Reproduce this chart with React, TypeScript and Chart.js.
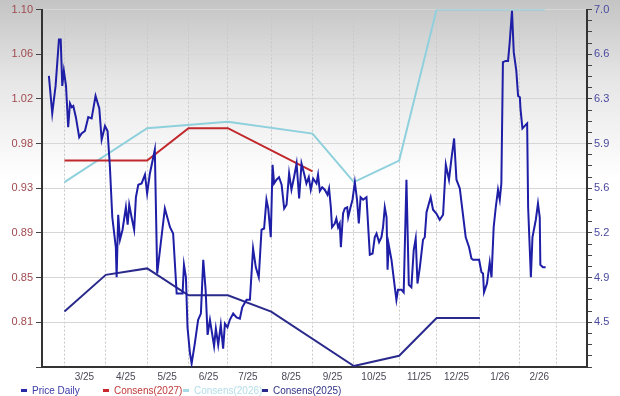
import React, { useEffect, useRef } from 'react';
import { Chart, registerables } from 'chart.js';

Chart.register(...registerables);

// ---- Data ----
// x unit: trading days counted from 1 Mar 2025
const monthLabels = ['3/25', '4/25', '5/25', '6/25', '7/25', '8/25', '9/25', '10/25', '11/25', '12/25', '1/26', '2/26'];
const monthStartDay = [0, 21, 42, 63, 83, 105, 126, 147, 170, 189, 211, 231, 250];
const xMin = -11.4;
const xMax = 265.4;

const priceDay = [
  -7.9, -6.2, -4.5, -2.8, -1.9, -1.1, -0.3, 0.8, 1.9, 2.8, 3.7, 4.5, 5.8, 7.5, 8.7, 10.4, 12.1, 13.8, 15.8, 17.7,
  18.9, 20.6, 21.9, 23.1, 24.3, 26.1, 26.5, 27.3, 28.2, 29.5, 31.2, 32.1, 32.9, 34.1, 35.4, 36.3, 37.5, 39.2, 40.9, 42.0,
  43.4, 45.9, 47.1, 51.0, 53.6, 55.2, 57.0, 58.6, 60.0, 60.7, 61.7, 62.5, 63.7, 64.6, 66.2, 67.9, 69.3, 70.5, 71.7, 72.7,
  73.9, 75.0, 76.0, 76.9, 78.1, 79.4, 80.6, 81.5, 82.8, 84.0, 85.7, 87.4, 89.1, 90.3, 92.5, 94.2, 95.8, 97.2, 98.7, 100.1,
  101.4, 102.6, 103.5, 104.8, 105.7, 106.5, 107.7, 109.0, 110.3, 111.6, 112.8, 114.1, 115.3, 116.6, 117.9, 119.2, 120.4, 121.7, 122.9, 124.1,
  125.1, 126.3, 128.0, 128.8, 129.7, 130.9, 132.2, 133.6, 134.4, 135.3, 135.9, 137.3, 138.1, 139.0, 139.8, 140.4, 141.5, 142.4, 143.6, 144.1,
  145.3, 146.3, 147.5, 148.6, 149.5, 150.4, 151.7, 153.4, 155.1, 156.5, 157.6, 158.5, 159.8, 161.0, 161.8, 162.7, 163.6, 164.1, 164.7, 166.1,
  167.8, 168.6, 169.4, 171.2, 172.3, 173.7, 174.9, 176.2, 177.4, 178.4, 179.3, 180.5, 182.1, 183.0, 183.9, 186.0, 187.2, 188.9, 190.6, 192.3,
  193.7, 195.3, 196.5, 197.9, 199.1, 200.8, 202.1, 203.8, 205.5, 206.7, 207.5, 209.2, 210.6, 211.8, 212.6, 213.1, 214.6, 216.0, 216.9, 218.0,
  219.0, 220.2, 221.1, 221.9, 222.7, 224.1, 225.3, 226.1, 227.3, 228.2, 229.5, 230.4, 231.3, 231.6, 232.6, 233.8, 235.0, 235.5, 236.9, 237.7,
  239.4, 240.5, 241.4, 241.7, 243.0, 244.4,
];
const priceValue = [
  6.47, 6.17, 6.39, 6.76, 6.76, 6.39, 6.51, 6.39, 6.06, 6.25, 6.22, 6.23, 6.14, 5.98, 6.01, 6.03, 6.14, 6.13, 6.31, 6.21,
  5.96, 6.07, 6.03, 5.74, 5.34, 5.10, 4.86, 5.36, 5.16, 5.24, 5.42, 5.28, 5.44, 5.34, 5.24, 5.50, 5.60, 5.61, 5.68, 5.53,
  5.69, 5.88, 4.89, 5.41, 5.26, 5.21, 4.73, 4.73, 4.73, 4.96, 4.86, 4.46, 4.26, 4.17, 4.33, 4.52, 4.57, 5.00, 4.76, 4.40,
  4.52, 4.41, 4.31, 4.45, 4.32, 4.48, 4.29, 4.49, 4.46, 4.52, 4.57, 4.54, 4.53, 4.62, 4.68, 4.68, 5.09, 4.94, 4.86, 5.24,
  5.25, 5.48, 5.41, 5.18, 5.76, 5.61, 5.64, 5.66, 5.60, 5.41, 5.44, 5.69, 5.56, 5.66, 5.77, 5.49, 5.77, 5.69, 5.61, 5.66,
  5.56, 5.65, 5.61, 5.68, 5.55, 5.58, 5.56, 5.52, 5.57, 5.42, 5.26, 5.29, 5.33, 5.26, 5.29, 5.10, 5.37, 5.41, 5.42, 5.34,
  5.42, 5.48, 5.62, 5.48, 5.29, 5.50, 5.48, 5.50, 5.04, 5.05, 5.18, 5.21, 5.14, 5.18, 5.26, 5.42, 5.34, 4.92, 5.12, 5.00,
  4.78, 4.68, 4.76, 4.76, 4.74, 5.64, 4.80, 4.78, 5.08, 5.17, 4.81, 4.94, 5.16, 5.18, 5.38, 5.50, 5.40, 5.37, 5.32, 5.36,
  5.76, 5.64, 5.80, 5.97, 5.64, 5.57, 5.40, 5.18, 5.10, 5.01, 5.00, 5.00, 5.00, 4.90, 4.89, 4.74, 4.81, 4.98, 4.86, 5.26,
  5.41, 5.56, 5.48, 5.61, 6.58, 6.59, 6.59, 6.73, 6.99, 6.66, 6.51, 6.31, 6.30, 6.21, 6.05, 6.07, 6.09, 5.42, 4.86, 5.18,
  5.32, 5.45, 5.34, 4.96, 4.94, 4.94,
];

const consens2027Day = [0, 42, 63, 83, 126];
const consens2027 = [0.96, 0.96, 0.99, 0.99, 0.95];

const consens2026Day = [0, 42, 83, 126, 147, 170, 189, 244];
const consens2026 = [0.94, 0.99, 0.996, 0.985, 0.94, 0.96, 1.1, 1.1];

const consens2025Day = [0, 21, 42, 63, 83, 105, 147, 170, 189, 211];
const consens2025 = [0.82, 0.854, 0.86, 0.835, 0.835, 0.82, 0.7695, 0.779, 0.814, 0.814];

// Left axis (consensus EPS) and right axis (price)
const leftMin = 0.768571;
const leftMax = 1.1;
const leftIntervals = 8;
const rightMin = 4.142857;
const rightMax = 7.0;
const rightIntervals = 8;
const rightMinorPerInterval = 4;

const legendItems = [
  { label: 'Price Daily', mark: '#2a2aa6', text: '#3a3aa8' },
  { label: 'Consens(2027)', mark: '#c8282c', text: '#c03838' },
  { label: 'Consens(2026)', mark: '#a9dbe6', text: '#b2dde8' },
  { label: 'Consens(2025)', mark: '#2a2a8c', text: '#303386' },
];
const legendX = [21, 103, 183, 262];

const pts = (xs: number[], ys: number[]) => xs.map((x, i) => ({ x, y: ys[i] }));

const FONT = "'Liberation Sans', Arial, sans-serif";

export default function App() {
  const ref = useRef<HTMLCanvasElement | null>(null);

  useEffect(() => {
    if (!ref.current) return;
    const leftTicks = Array.from({ length: leftIntervals + 1 }, (_, i) => leftMin + (i * (leftMax - leftMin)) / leftIntervals);
    const nRight = rightIntervals * rightMinorPerInterval;
    const rightTicks = Array.from({ length: nRight + 1 }, (_, i) => rightMin + (i * (rightMax - rightMin)) / nRight);

    const chart = new Chart(ref.current, {
      type: 'line',
      data: {
        datasets: [
          {
            label: 'Price Daily',
            data: pts(priceDay, priceValue),
            yAxisID: 'y1',
            borderColor: '#1e1ea6',
            borderWidth: 2,
            pointRadius: 0,
            tension: 0,
          },
          {
            label: 'Consens(2027)',
            data: pts(consens2027Day, consens2027),
            yAxisID: 'y',
            borderColor: '#c0282c',
            borderWidth: 2,
            pointRadius: 0,
            tension: 0,
          },
          {
            label: 'Consens(2026)',
            data: pts(consens2026Day, consens2026),
            yAxisID: 'y',
            borderColor: '#8fd0dd',
            borderWidth: 2,
            pointRadius: 0,
            tension: 0,
          },
          {
            label: 'Consens(2025)',
            data: pts(consens2025Day, consens2025),
            yAxisID: 'y',
            borderColor: '#2a2a8c',
            borderWidth: 2,
            pointRadius: 0,
            tension: 0,
          },
        ],
      },
      options: {
        animation: false,
        responsive: false,
        maintainAspectRatio: false,
        layout: { padding: { top: 9, bottom: 13, left: 0, right: 0 } },
        plugins: { legend: { display: false }, tooltip: { enabled: false } },
        scales: {
          x: {
            type: 'linear',
            min: xMin,
            max: xMax,
            afterBuildTicks: (scale: any) => {
              scale.ticks = monthStartDay.map((v) => ({ value: v }));
            },
            afterFit: (scale: any) => {
              scale.height = 16;
            },
            grid: { color: '#c8c8c8', lineWidth: 1, drawTicks: false },
            border: { color: '#333333', width: 2, dash: [2, 2] },
            ticks: {
              autoSkip: false,
              maxRotation: 0,
              labelOffset: 20,
              padding: 4,
              color: '#4a4a58',
              font: { family: FONT, size: 10 },
              callback: (_v: any, i: number) => monthLabels[i] ?? '',
            },
          },
          y: {
            type: 'linear',
            position: 'left',
            min: leftMin,
            max: leftMax,
            afterBuildTicks: (scale: any) => {
              scale.ticks = leftTicks.map((v) => ({ value: v }));
            },
            afterFit: (scale: any) => {
              scale.width = 42;
            },
            grid: { color: '#d6d6d6', lineWidth: 1, tickColor: '#444444', tickLength: 6 },
            border: { color: '#333333', width: 2 },
            ticks: {
              autoSkip: false,
              padding: 3,
              color: '#a04a4e',
              font: { family: FONT, size: 11 },
              callback: (v: any, i: number) => (i === 0 ? '' : Number(v).toFixed(2)),
            },
          },
          y1: {
            type: 'linear',
            position: 'right',
            min: rightMin,
            max: rightMax,
            afterBuildTicks: (scale: any) => {
              scale.ticks = rightTicks.map((v) => ({ value: v }));
            },
            afterFit: (scale: any) => {
              scale.width = 33;
            },
            grid: { drawOnChartArea: false, tickColor: '#444444', tickLength: 5 },
            border: { color: '#333333', width: 2 },
            ticks: {
              autoSkip: false,
              padding: 2,
              color: '#4a4aa0',
              font: { family: FONT, size: 11 },
              callback: (v: any, i: number) =>
                i > 0 && i % rightMinorPerInterval === 0 ? Number(v).toFixed(1) : '',
            },
          },
        },
      },
    });
    return () => chart.destroy();
  }, []);

  return (
    <div
      style={{
        position: 'fixed',
        left: 0,
        top: 0,
        width: 620,
        height: 396,
        overflow: 'hidden',
        background: 'linear-gradient(to bottom, #c4c4c4 0px, #e6e6e6 80px, #ffffff 180px, #ffffff 396px)',
        fontFamily: FONT,
      }}
    >
      <canvas ref={ref} width={620} height={396} style={{ position: 'absolute', left: 0, top: 0 }} />
      {legendItems.map((it, i) => (
        <div
          key={it.label}
          style={{
            position: 'absolute',
            left: legendX[i],
            top: 383,
            height: 14,
            display: 'flex',
            alignItems: 'center',
            whiteSpace: 'nowrap',
            fontSize: 10,
            color: it.text,
          }}
        >
          <span style={{ display: 'inline-block', width: 6, height: 3, background: it.mark, marginRight: 5 }} />
          <span>{it.label}</span>
        </div>
      ))}
    </div>
  );
}
